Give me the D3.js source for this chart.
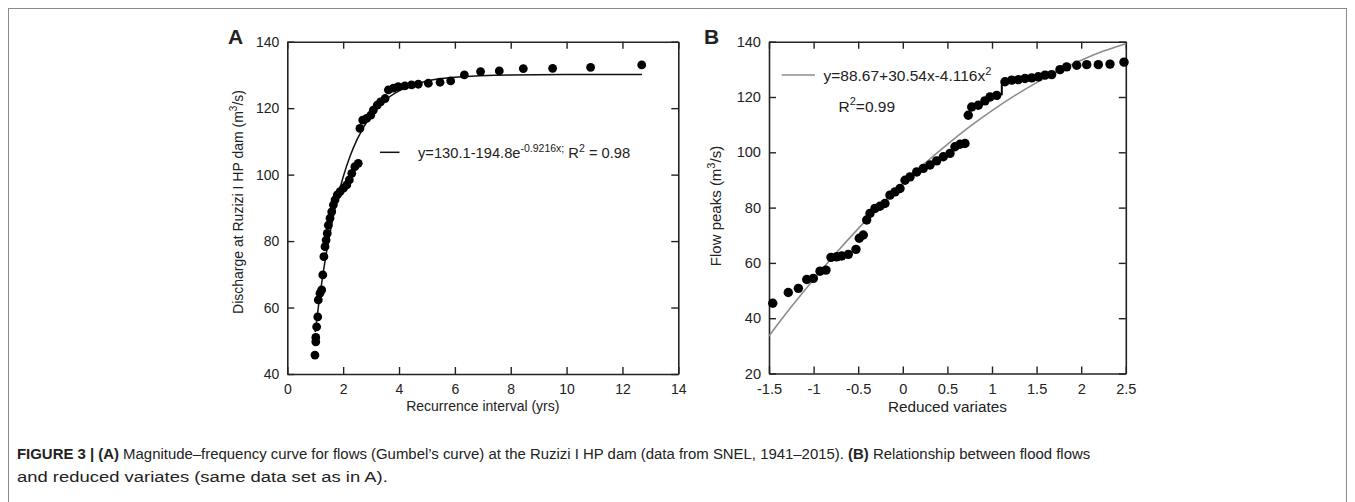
<!DOCTYPE html>
<html>
<head>
<meta charset="utf-8">
<script src="https://cdn.jsdelivr.net/npm/d3@7"></script>
<style>
  body { margin: 0; background: #fff; }
  svg { display: block; }
  text { font-family: "Liberation Sans", Arial, sans-serif; fill: #222; }
</style>
</head>
<body>
<script>
// Gumbel magnitude-frequency figure, two panels + caption

// panel A : recurrence interval (yrs) vs discharge (m3/s)
const recurrenceA = [0.99, 1.02, 1.02, 1.05, 1.09, 1.11, 1.17, 1.23, 1.27, 1.31, 1.35, 1.39, 1.43, 1.47,
                     1.53, 1.59, 1.65, 1.71, 1.79, 1.89, 2.01, 2.13, 2.22, 2.31, 2.42, 2.54, 2.60, 2.70,
                     2.84, 2.99, 3.08, 3.22, 3.34, 3.50, 3.62, 3.80, 3.97, 4.21, 4.45, 4.69, 5.05, 5.47,
                     5.85, 6.34, 6.92, 7.59, 8.45, 9.50, 10.86, 12.69];
const dischargeA = [45.7, 49.7, 51.0, 54.2, 57.2, 62.3, 64.3, 65.3, 69.8, 75.3, 78.3, 80.3, 82.3, 84.8,
                    86.9, 88.8, 90.9, 92.4, 93.9, 94.9, 95.9, 96.9, 98.4, 100.4, 102.4, 103.4, 113.9, 116.4,
                    116.9, 117.9, 119.4, 120.9, 121.9, 122.9, 125.5, 126.0, 126.5, 126.7, 127.0, 127.2, 127.5, 127.8,
                    128.2, 130.0, 131.0, 131.2, 131.9, 132.0, 132.3, 133.0];
// fitted curve of panel A
const fitAx = [1.0, 1.125, 1.25, 1.5, 1.75, 2.0, 2.25, 2.5, 3.0, 3.5, 4.0, 5.0, 6.0, 8.0, 10.0, 12.7];
const fitAy = [52.6, 61.0, 68.5, 81.2, 91.3, 99.3, 105.6, 110.6, 117.8, 122.4, 125.2, 128.2, 129.3, 130.0, 130.1, 130.1];

// panel B : reduced variate vs flow peaks (m3/s)
const variateB = [-1.458, -1.284, -1.171, -1.077, -1.003, -0.928, -0.861, -0.805, -0.741, -0.685, -0.611, -0.525,
                  -0.488, -0.443, -0.405, -0.368, -0.312, -0.256, -0.200, -0.144, -0.087, -0.031, 0.025, 0.081,
                  0.156, 0.230, 0.305, 0.380, 0.454, 0.529, 0.585, 0.641, 0.697, 0.734, 0.772, 0.846, 0.921,
                  0.978, 1.053, 1.146, 1.221, 1.295, 1.370, 1.445, 1.519, 1.595, 1.669, 1.762, 1.837, 1.950,
                  2.062, 2.192, 2.323, 2.480];
const peaksB = [45.4, 49.3, 50.8, 54.0, 54.4, 57.0, 57.4, 62.0, 62.2, 62.5, 63.1, 64.9,
                68.9, 70.1, 75.5, 77.9, 79.7, 80.5, 81.5, 84.5, 85.7, 86.9, 89.9, 91.1,
                92.9, 94.2, 95.4, 96.9, 98.4, 99.6, 102.0, 102.9, 103.2, 113.4, 116.4, 117.0, 118.6,
                120.0, 120.6, 125.5, 126.1, 126.3, 126.7, 126.9, 127.3, 127.9, 128.1, 129.9, 130.9, 131.5,
                131.7, 131.7, 131.9, 132.6];
// small black step drawn between the two upper clusters
const stepBx = [0.94, 1.11, 1.11];
const stepBy = [121.0, 121.0, 126.1];
// fitted quadratic of panel B
const fitBx = [-1.5, -1.25, -1.0, -0.75, -0.5, -0.25, 0, 0.25, 0.5, 0.75, 1.0, 1.25, 1.5, 1.75, 2.0, 2.25, 2.5];
const fitBy = [33.6, 44.1, 54.0, 63.5, 72.4, 80.8, 88.7, 96.1, 102.9, 109.3, 115.1, 120.4, 125.2, 129.5, 133.3, 136.6, 139.3];

const ticksAx = [0, 2, 4, 6, 8, 10, 12, 14];
const ticksAy = [40, 60, 80, 100, 120, 140];
const ticksBx = [-1.5, -1, -0.5, 0, 0.5, 1, 1.5, 2, 2.5];
const ticksBy = [20, 40, 60, 80, 100, 120, 140];

const width = 1355, height = 502;
const svg = d3.select("body").append("svg")
    .attr("width", width)
    .attr("height", height);

// outer frame
svg.append("rect")
    .attr("x", 8.5).attr("y", 8.5)
    .attr("width", 1338).attr("height", 600)
    .attr("fill", "none")
    .attr("stroke", "#8a8a8a")
    .attr("stroke-width", 1);

// plot boxes
const boxA = {left: 287.3, right: 678.3, top: 41.7, bottom: 374};
const boxB = {left: 769, right: 1125.8, top: 41.7, bottom: 373.5};

const xA = d3.scaleLinear().domain([0, 14]).range([boxA.left, boxA.right]);
const yA = d3.scaleLinear().domain([40, 140]).range([boxA.bottom, boxA.top]);
const xB = d3.scaleLinear().domain([-1.5, 2.5]).range([boxB.left, boxB.right]);
const yB = d3.scaleLinear().domain([20, 140]).range([boxB.bottom, boxB.top]);

const fmt = d => String(d);

function drawFrame(box, x, y, tx, ty, fs) {
    const g = svg.append("g");
    // bottom
    g.append("g")
        .attr("transform", "translate(0," + box.bottom + ")")
        .call(d3.axisBottom(x).tickValues(tx).tickFormat(fmt).tickSize(-7).tickSizeOuter(0).tickPadding(10));
    // left
    g.append("g")
        .attr("transform", "translate(" + box.left + ",0)")
        .call(d3.axisLeft(y).tickValues(ty).tickFormat(fmt).tickSize(-7).tickSizeOuter(0).tickPadding(8));
    // top
    g.append("g")
        .attr("transform", "translate(0," + box.top + ")")
        .call(d3.axisTop(x).tickValues(tx).tickFormat("").tickSize(-7).tickSizeOuter(0));
    // right
    g.append("g")
        .attr("transform", "translate(" + box.right + ",0)")
        .call(d3.axisRight(y).tickValues(ty).tickFormat("").tickSize(-7).tickSizeOuter(0));
    g.selectAll(".domain").attr("stroke", "#222").attr("stroke-width", 1.6);
    g.selectAll(".tick line").attr("stroke", "#222").attr("stroke-width", 1.4);
    g.selectAll(".tick text")
        .style("font-family", "'Liberation Sans', Arial, sans-serif")
        .style("font-size", fs + "px")
        .attr("fill", "#222");
    return g;
}

drawFrame(boxA, xA, yA, ticksAx, ticksAy, 14);
drawFrame(boxB, xB, yB, ticksBx, ticksBy, 14.6);

// ---- panel A marks
const fitA = fitAx.map((v, i) => [v, fitAy[i]]);
svg.append("path")
    .datum(fitA)
    .attr("fill", "none")
    .attr("stroke", "#111")
    .attr("stroke-width", 1.5)
    .attr("d", d3.line().x(d => xA(d[0])).y(d => yA(d[1])).curve(d3.curveMonotoneX));

svg.selectAll(".dotA")
    .data(recurrenceA.map((v, i) => ({x: v, y: dischargeA[i]})))
    .join("circle")
    .attr("class", "dotA")
    .attr("cx", d => xA(d.x))
    .attr("cy", d => yA(d.y))
    .attr("r", 4.4)
    .attr("fill", "#000");

// legend A
svg.append("line")
    .attr("x1", 380).attr("x2", 399.5)
    .attr("y1", 152.3).attr("y2", 152.3)
    .attr("stroke", "#111").attr("stroke-width", 1.5);
const legA = svg.append("text")
    .attr("x", 418).attr("y", 157.5)
    .style("font-size", "14.7px");
legA.append("tspan").text("y=130.1-194.8e");
legA.append("tspan").attr("dy", -6).style("font-size", "10.5px").text("-0.9216x;");
legA.append("tspan").attr("dy", 6).text(" R");
legA.append("tspan").attr("dy", -6).style("font-size", "10.5px").text("2");
legA.append("tspan").attr("dy", 6).text(" = 0.98");

// ---- panel B marks
const fitB = fitBx.map((v, i) => [v, fitBy[i]]);
svg.append("path")
    .datum(fitB)
    .attr("fill", "none")
    .attr("stroke", "#8c8c8c")
    .attr("stroke-width", 1.6)
    .attr("d", d3.line().x(d => xB(d[0])).y(d => yB(d[1])).curve(d3.curveMonotoneX));

svg.selectAll(".dotB")
    .data(variateB.map((v, i) => ({x: v, y: peaksB[i]})))
    .join("circle")
    .attr("class", "dotB")
    .attr("cx", d => xB(d.x))
    .attr("cy", d => yB(d.y))
    .attr("r", 4.7)
    .attr("fill", "#000");

svg.append("path")
    .datum(stepBx.map((v, i) => [v, stepBy[i]]))
    .attr("fill", "none")
    .attr("stroke", "#000")
    .attr("stroke-width", 2)
    .attr("d", d3.line().x(d => xB(d[0])).y(d => yB(d[1])));

// legend B
svg.append("line")
    .attr("x1", 781.7).attr("x2", 815)
    .attr("y1", 75).attr("y2", 75)
    .attr("stroke", "#8c8c8c").attr("stroke-width", 1.6);
const legB = svg.append("text")
    .attr("x", 823.5).attr("y", 81)
    .style("font-size", "15.5px");
legB.append("tspan").text("y=88.67+30.54x-4.116x");
legB.append("tspan").attr("dy", -6.5).style("font-size", "11px").text("2");
const legB2 = svg.append("text")
    .attr("x", 838.5).attr("y", 111.5)
    .style("font-size", "15.5px");
legB2.append("tspan").text("R");
legB2.append("tspan").attr("dy", -6.5).style("font-size", "11px").text("2");
legB2.append("tspan").attr("dy", 6.5).text("=0.99");

// ---- axis titles
function yTitle(cx, cy, fs, parts) {
    const t = svg.append("text")
        .attr("transform", "translate(" + cx + "," + cy + ") rotate(-90)")
        .attr("text-anchor", "middle")
        .style("font-size", fs + "px");
    parts.forEach(p => {
        const s = t.append("tspan").text(p.t);
        if (p.sup) s.attr("dy", -6).style("font-size", (fs - 4) + "px");
        if (p.back) s.attr("dy", 6);
    });
}
yTitle(243, 202, 14, [{t: "Discharge at Ruzizi I HP dam (m"}, {t: "3", sup: true}, {t: "/s)", back: true}]);
yTitle(721, 206, 15, [{t: "Flow peaks (m"}, {t: "3", sup: true}, {t: "/s)", back: true}]);

svg.append("text")
    .attr("x", (boxA.left + boxA.right) / 2).attr("y", 411)
    .attr("text-anchor", "middle")
    .style("font-size", "14px")
    .text("Recurrence interval (yrs)");
svg.append("text")
    .attr("x", (boxB.left + boxB.right) / 2).attr("y", 411.5)
    .attr("text-anchor", "middle")
    .style("font-size", "15.3px")
    .text("Reduced variates");

// panel letters
svg.append("text").attr("x", 228).attr("y", 43.5)
    .style("font-size", "21px").style("font-weight", "bold").attr("fill", "#111").text("A");
svg.append("text").attr("x", 704).attr("y", 43.5)
    .style("font-size", "21px").style("font-weight", "bold").attr("fill", "#111").text("B");

// ---- caption (condensed face, squeezed to the reference width)
function captionLine(y, targetW, build) {
    const t = svg.append("text")
        .attr("x", 0).attr("y", y)
        .style("font-family", "'Liberation Sans Narrow', 'Liberation Sans', sans-serif")
        .style("font-size", "15px").attr("fill", "#231f20");
    build(t);
    const w = t.node().getComputedTextLength();
    t.attr("transform", "translate(17,0) scale(" + (targetW / w) + ",1)");
}
captionLine(459, 1074, t => {
    t.append("tspan").style("font-weight", "bold").text("FIGURE 3 | (A)");
    t.append("tspan").text(" Magnitude\u2013frequency curve for flows (Gumbel\u2019s curve) at the Ruzizi I HP dam (data from SNEL, 1941\u20132015). ");
    t.append("tspan").style("font-weight", "bold").text("(B)");
    t.append("tspan").text(" Relationship between flood flows");
});
captionLine(482, 371, t => {
    t.append("tspan").text("and reduced variates (same data set as in A).");
});
</script>
</body>
</html>
